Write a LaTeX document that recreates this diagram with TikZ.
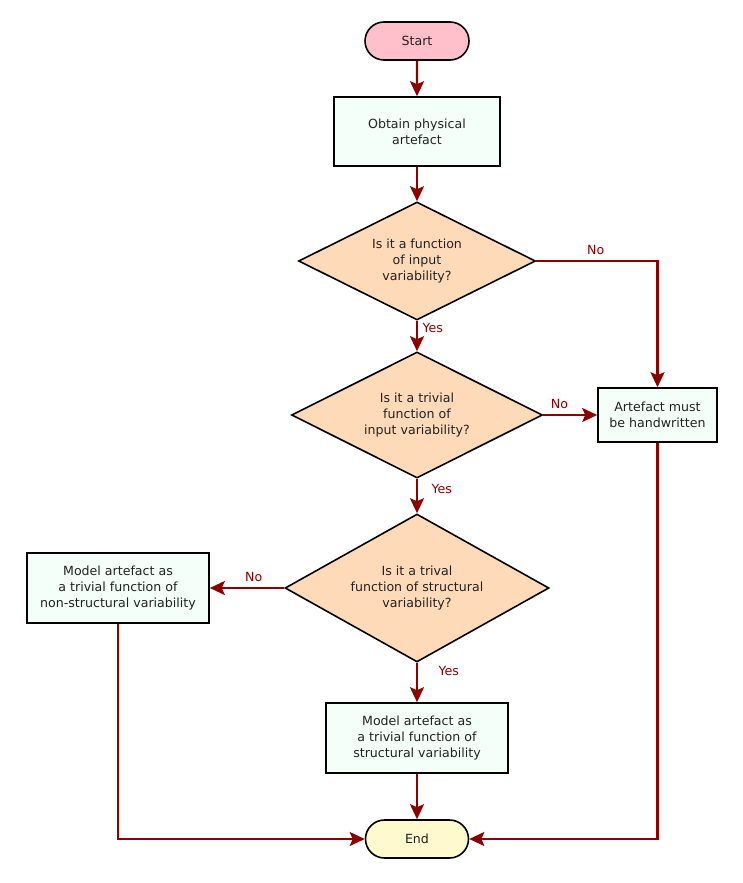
\documentclass[tikz,border=0pt]{standalone}
\usepackage{fontspec}
\setmainfont{DejaVu Sans}
\usetikzlibrary{shapes.geometric,shapes.misc,arrows.meta}
\definecolor{edgered}{HTML}{8B0000}
\definecolor{txtgray}{HTML}{222222}
\definecolor{mintcream}{HTML}{F5FFFA}
\definecolor{peach}{HTML}{FFDAB9}
\definecolor{lemonchiffon}{HTML}{FFFACD}
\definecolor{pinkfill}{HTML}{FFC0CB}
\begin{document}
\begin{tikzpicture}[x=1pt,y=-1pt,
  every node/.append style={font=\fontsize{12.6}{16}\selectfont,text=txtgray},
  term/.style={rounded rectangle,draw,line width=1.6pt,minimum width=104,minimum height=38,inner sep=0pt},
  proc/.style={rectangle,draw,line width=1.6pt,fill=mintcream,align=center,inner sep=0pt},
  test/.style={diamond,draw,line width=1.6pt,fill=peach,align=center,aspect=2,inner sep=0pt},
  edge/.style={draw=edgered,line width=2.2pt,-{Stealth[length=15pt,width=14pt,inset=3pt]}},
  lbl/.style={text=edgered,text height=9pt,text depth=2.5pt,inner sep=2.5pt}]
\pgfmathsetmacro{\cx}{417}
\useasboundingbox(0,0)rectangle(743,883);
\node[term,fill=pinkfill](start)at(\cx,41){Start};
\node[proc,minimum width=166,minimum height=69](obtain)at(\cx,131.5){Obtain physical\\artefact};
\node[test,minimum width=237,minimum height=118](inputfn)at(\cx,261){Is it a function\\of input\\variability?};
\node[test,minimum width=251,minimum height=126](inputtriv)at(\cx,415){Is it a trivial\\function of\\input variability?};
\node[proc,minimum width=119,minimum height=54](hand)at(657.5,415){Artefact must\\be handwritten};
\node[test,minimum width=264,minimum height=148](structtriv)at(\cx,588){Is it a trival\\function of structural\\variability?};
\node[proc,minimum width=182,minimum height=70](nonstruct)at(118,588){Model artefact as\\a trivial function of\\non-structural variability};
\node[proc,minimum width=182,minimum height=70](struct)at(\cx,738){Model artefact as\\a trivial function of\\structural variability};
\node[term,fill=lemonchiffon,minimum width=103](end)at(\cx,839){End};
\draw[edge](start)--(obtain);
\draw[edge](obtain)--(inputfn);
\draw[edge](inputfn.east)-|node[lbl,above,pos=0.245]{No}(hand.north);
\draw[edge](inputfn.south)--node[lbl,anchor=west,pos=0.28,xshift=2pt]{Yes}(inputtriv.north);
\draw[edge](inputtriv.east)--node[lbl,above,pos=0.3]{No}(hand.west);
\draw[edge](inputtriv.south)--node[lbl,anchor=west,pos=0.33,xshift=11pt]{Yes}(structtriv.north);
\draw[edge](structtriv.west)--node[lbl,above,pos=0.41]{No}(nonstruct.east);
\draw[edge](structtriv.south)--node[lbl,anchor=west,pos=0.24,xshift=18pt]{Yes}(struct.north);
\draw[edge](struct)--(end);
\draw[edge](nonstruct.south)|-(end.west);
\draw[edge](hand.south)|-(end.east);
\end{tikzpicture}
\end{document}
